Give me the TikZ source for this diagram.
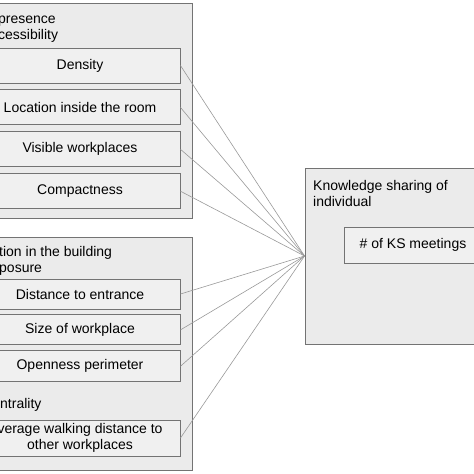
\documentclass[tikz,border=0pt]{standalone}
\usepackage{fontspec}
\setmainfont{Liberation Sans}
\usetikzlibrary{positioning}
\begin{document}
\begin{tikzpicture}
	[x=1pt,y=-1pt,
	group/.style={rectangle,draw=black!55,fill=black!8,line width=0.9pt,inner sep=0pt},
	factor/.style={rectangle,draw=black!55,fill=black!6,line width=0.9pt,inner sep=0pt,minimum width=200pt,minimum height=35pt,align=center,font=\fontsize{14}{16}\selectfont},
	heading/.style={inner sep=0pt,anchor=base west,align=left,font=\fontsize{14}{16}\selectfont},
	link/.style={draw=black!40,line width=0.6pt}]
	\useasboundingbox (0,0) rectangle (474,474);

	\node [group,minimum width=232pt,minimum height=215pt] (presencebox) at (76,110.5) {};
	\node [group,minimum width=232pt,minimum height=233pt] (buildingbox) at (76,353.5) {};
	\node [group,minimum width=195pt,minimum height=176pt] (ksbox) at (402.5,256) {};

	% base of a two-line heading is its last line
	\node [heading] (presencetitle) at (-2,39) {presence\\cessibility};
	\node [heading] (buildingtitle) at (-1,272.5) {tion in the building\\posure};
	\node [heading] (centralitytitle) at (0,408) {ntrality};
	\node [heading] (kstitle) at (313,206) {Knowledge sharing of\\individual};

	\node [factor] (density) at (80,65.5) {Density};
	\node [factor] (location) [below=6pt of density] {Location inside the room};
	\node [factor] (visible) [below=6pt of location] {Visible workplaces};
	\node [factor] (compact) [below=6pt of visible] {Compactness};

	\node [factor,minimum height=30pt] (distance) at (80,294) {Distance to entrance};
	\node [factor,minimum height=30pt] (size) [below=5pt of distance] {Size of workplace};
	\node [factor,minimum height=31pt] (openness) [below=5pt of size] {Openness perimeter};
	\node [factor,minimum height=36pt] (walking) at (80,438) {verage walking distance to\\other workplaces};

	\node [factor,minimum width=138pt,minimum height=36pt] (meetings) at (413,245) {\# of KS meetings};

	\foreach \f in {density,location,visible,compact,distance,size,openness,walking}
		\draw [link] (\f.east) -- (ksbox.west);

\end{tikzpicture}
\end{document}
